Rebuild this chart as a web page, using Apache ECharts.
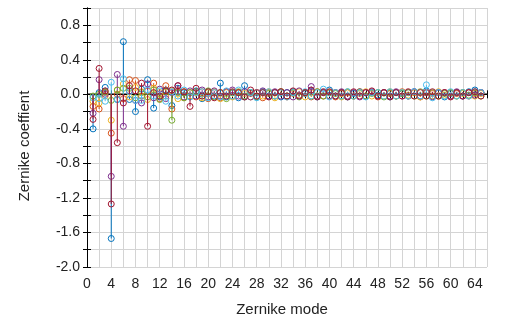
<!DOCTYPE html>
<html>
<head>
<meta charset="utf-8">
<script src="https://cdn.jsdelivr.net/npm/echarts@6/dist/echarts.min.js"></script>
<style>
  html, body { margin: 0; padding: 0; background: #fff; }
  #chart { width: 521px; height: 325px; }
</style>
</head>
<body>
<div id="chart"></div>
<script>
// Zernike modes 1..65
const modes = Array.from({ length: 65 }, (_, i) => i + 1);

const xTicks = { min: 0, max: 66, step: 2 };
const yTicks = { min: -2.0, max: 1.0, step: 0.4 };

// Zernike coefficients of each measurement
const coefBlue = [
  -0.40, 0.02, 0.08, -1.67, -0.06, 0.61, -0.06, -0.20, 0.06, 0.17,
  -0.16, -0.03, 0.05, -0.13, 0.07, 0.02, -0.03, 0.04, -0.05, 0.03,
  -0.02, 0.13, -0.03, 0.02, -0.04, 0.10, 0.02, -0.03, 0.03, -0.02,
  0.02, -0.03, 0.02, 0.03, -0.02, 0.01, 0.04, -0.03, 0.02, 0.05,
  -0.02, 0.02, -0.03, 0.01, 0.03, -0.02, 0.02, -0.01, 0.02, -0.03,
  0.02, 0.01, -0.02, 0.03, -0.02, 0.04, -0.02, 0.02, -0.03, 0.01,
  0.02, -0.02, 0.03, 0.05, 0.02
];
const coefOrange = [
  -0.14, -0.17, 0.02, -0.45, 0.00, -0.05, 0.17, 0.16, -0.02, 0.04,
  0.13, -0.05, 0.10, -0.17, 0.03, -0.04, 0.02, -0.03, 0.03, -0.05,
  0.02, -0.04, 0.03, -0.02, 0.02, -0.03, 0.01, 0.02, -0.04, 0.02,
  -0.02, 0.03, -0.03, 0.02, -0.01, 0.02, -0.03, 0.03, -0.02, 0.02,
  -0.03, 0.01, 0.02, -0.02, 0.03, -0.02, 0.02, -0.03, 0.02, 0.01,
  -0.02, 0.03, -0.02, 0.02, -0.03, 0.02, 0.01, -0.02, 0.02, -0.02,
  0.01, 0.02, -0.02, 0.01, 0.02
];
const coefYellow = [
  -0.08, -0.10, -0.02, -0.30, 0.05, 0.12, -0.03, 0.08, 0.03, -0.06,
  0.07, 0.02, -0.02, 0.04, -0.05, 0.03, -0.02, 0.02, -0.04, 0.02,
  0.03, -0.05, 0.02, -0.03, 0.02, 0.01, -0.03, 0.02, -0.02, 0.03,
  -0.04, 0.02, -0.02, 0.01, 0.03, -0.03, 0.02, -0.02, 0.03, -0.02,
  0.02, -0.03, 0.02, -0.02, 0.01, 0.03, -0.02, 0.02, -0.02, 0.03,
  -0.02, 0.02, -0.01, 0.02, -0.03, 0.02, -0.02, 0.03, -0.01, 0.02,
  -0.02, 0.01, 0.02, -0.02, 0.01
];
const coefPurple = [
  -0.22, 0.17, 0.00, -0.95, 0.23, -0.37, 0.04, -0.07, -0.10, 0.12,
  -0.04, 0.06, -0.05, 0.02, 0.10, -0.03, 0.04, -0.02, 0.05, -0.03,
  0.04, -0.02, 0.03, 0.05, -0.02, 0.03, -0.03, 0.02, 0.04, -0.02,
  0.03, -0.02, 0.02, -0.03, 0.04, 0.02, 0.09, -0.02, 0.03, -0.02,
  0.02, 0.03, -0.02, 0.02, -0.03, 0.02, 0.03, -0.02, 0.02, -0.02,
  0.03, -0.02, 0.02, 0.03, -0.02, 0.02, -0.03, 0.02, 0.02, -0.02,
  0.03, -0.02, 0.02, -0.01, 0.02
];
const coefGreen = [
  -0.02, 0.00, 0.03, -0.07, 0.05, 0.07, 0.07, -0.04, 0.02, -0.03,
  0.05, -0.06, 0.03, -0.30, 0.02, -0.04, 0.02, 0.03, -0.02, 0.04,
  -0.03, 0.02, -0.05, 0.02, 0.03, -0.02, 0.02, -0.03, 0.02, 0.01,
  -0.02, 0.03, -0.02, 0.02, -0.03, 0.02, -0.02, 0.03, -0.02, 0.02,
  0.01, -0.02, 0.03, -0.02, 0.02, -0.02, 0.01, 0.02, -0.03, 0.02,
  -0.02, 0.01, 0.02, -0.02, 0.03, -0.02, 0.02, -0.02, 0.01, 0.02,
  -0.02, 0.02, -0.01, 0.02, -0.02
];
const coefLightBlue = [
  -0.04, -0.05, -0.08, 0.14, -0.06, 0.18, 0.03, -0.07, -0.07, 0.05,
  -0.02, 0.04, -0.08, 0.03, -0.02, 0.05, -0.03, 0.02, 0.03, -0.04,
  0.02, -0.03, 0.04, -0.02, 0.05, -0.03, 0.02, -0.04, 0.02, 0.03,
  -0.02, 0.02, -0.03, 0.02, -0.02, 0.03, -0.02, 0.02, 0.06, -0.03,
  0.02, -0.02, 0.03, -0.02, 0.02, -0.03, 0.02, 0.02, -0.02, 0.03,
  -0.02, 0.02, -0.02, 0.03, -0.02, 0.11, -0.04, 0.02, -0.02, 0.03,
  -0.02, 0.02, -0.02, 0.03, 0.02
];
const coefDarkRed = [
  -0.29, 0.30, 0.04, -1.27, -0.56, -0.10, 0.10, 0.04, 0.13, -0.37,
  0.02, -0.02, 0.04, 0.05, 0.10, 0.03, -0.14, 0.07, -0.02, 0.03,
  -0.04, 0.02, -0.02, 0.03, 0.02, -0.03, 0.05, -0.02, 0.02, -0.03,
  0.02, 0.03, -0.02, 0.04, -0.02, 0.02, 0.05, -0.03, 0.02, 0.03,
  -0.02, 0.02, -0.03, 0.03, -0.02, 0.02, 0.04, -0.02, 0.02, -0.03,
  0.02, -0.02, 0.03, -0.02, 0.02, -0.02, 0.03, -0.02, 0.02, -0.03,
  0.02, -0.02, 0.02, 0.03, -0.02
];

const seriesDefs = [
  { name: 'S1', color: '#0072BD', values: coefBlue },
  { name: 'S2', color: '#D95319', values: coefOrange },
  { name: 'S3', color: '#EDB120', values: coefYellow },
  { name: 'S4', color: '#7E2F8E', values: coefPurple },
  { name: 'S5', color: '#77AC30', values: coefGreen },
  { name: 'S6', color: '#4DBEEE', values: coefLightBlue },
  { name: 'S7', color: '#A2142F', values: coefDarkRed }
];

// Stem plot: a vertical line from zero to the value, topped with an open circle
function stemRenderer(color) {
  return function (params, api) {
    const x = api.value(0);
    const y = api.value(1);
    const top = api.coord([x, y]);
    const base = api.coord([x, 0]);
    return {
      type: 'group',
      children: [
        {
          type: 'line',
          shape: { x1: base[0], y1: base[1], x2: top[0], y2: top[1] },
          style: { stroke: color, lineWidth: 1 }
        },
        {
          type: 'circle',
          shape: { cx: top[0], cy: top[1], r: 3 },
          style: { fill: 'none', stroke: color, lineWidth: 1 }
        }
      ]
    };
  };
}

const fontFamily = 'Liberation Sans, Arial, sans-serif';

const mainAxisX = {
  type: 'value', min: xTicks.min, max: xTicks.max, interval: xTicks.step,
  axisLine: { lineStyle: { color: '#000', width: 1 } },
  axisTick: { inside: true, length: 4, lineStyle: { color: '#000' } },
  axisLabel: {
    color: '#222', fontSize: 14, fontFamily, margin: 10,
    formatter: v => (v % 4 === 0 ? String(v) : '')
  },
  splitLine: { show: true, lineStyle: { color: '#d4d4d4', width: 1 } }
};
const mainAxisY = {
  type: 'value', min: yTicks.min, max: yTicks.max, interval: 0.2,
  axisLine: { lineStyle: { color: '#000', width: 1 } },
  axisTick: { inside: true, length: 4, lineStyle: { color: '#000' } },
  axisLabel: {
    color: '#222', fontSize: 14, fontFamily, margin: 7,
    formatter: v => {
      const k = Math.round((v - yTicks.min) / 0.2);
      if (k % 2 !== 0 || v > 0.9) return '';
      return v.toFixed(1);
    }
  },
  splitLine: { show: true, lineStyle: { color: '#d4d4d4', width: 1 } }
};

const option = {
  animation: false,
  backgroundColor: '#fff',
  grid: { left: 87, right: 34, top: 8, bottom: 58, containLabel: false },
  xAxis: [
    mainAxisX,
    {
      type: 'value', position: 'top', min: xTicks.min, max: xTicks.max, interval: xTicks.step,
      axisLine: { lineStyle: { color: '#000' } },
      axisTick: { inside: true, length: 4, lineStyle: { color: '#000' } },
      axisLabel: { show: false }, splitLine: { show: false }
    }
  ],
  yAxis: [
    mainAxisY,
    {
      type: 'value', position: 'right', min: yTicks.min, max: yTicks.max, interval: 0.2,
      axisLine: { lineStyle: { color: '#000' } },
      axisTick: { inside: true, length: 4, lineStyle: { color: '#000' } },
      axisLabel: { show: false }, splitLine: { show: false }
    }
  ],
  graphic: [
    {
      type: 'text', x: 282, y: 310,
      style: { text: 'Zernike mode', font: '15px ' + fontFamily, fill: '#222', align: 'center', verticalAlign: 'middle' }
    },
    {
      type: 'text', x: 25, y: 146, rotation: Math.PI / 2,
      style: { text: 'Zernike coeffient', font: '15px ' + fontFamily, fill: '#222', align: 'center', verticalAlign: 'middle' }
    }
  ],
  series: [
    // zero line
    {
      type: 'line', data: [[xTicks.min, 0], [xTicks.max, 0]], symbol: 'none',
      lineStyle: { color: '#000', width: 1.5 }, z: 1, silent: true
    },
    ...seriesDefs.map(s => ({
      name: s.name,
      type: 'custom',
      renderItem: stemRenderer(s.color),
      data: modes.map((m, i) => [m, s.values[i]]),
      encode: { x: 0, y: 1 },
      z: 3
    }))
  ]
};

const chart = echarts.init(document.getElementById('chart'), null, { renderer: 'canvas' });
chart.setOption(option);
</script>
</body>
</html>
